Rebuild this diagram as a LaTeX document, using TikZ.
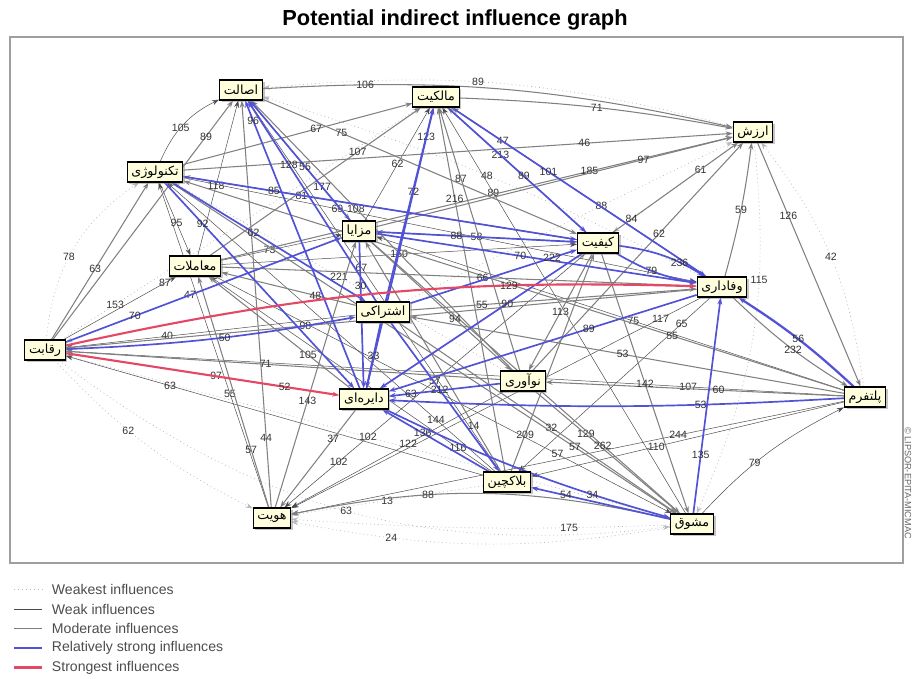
\documentclass[tikz,border=0pt]{standalone}
\usepackage{fontspec}
\setmainfont{Liberation Sans}
\newfontfamily\arabicfont[Script=Arabic]{DejaVu Sans}
\TeXXeTstate=1
\usetikzlibrary{arrows.meta,shadows,backgrounds}

\definecolor{rsblue}{RGB}{82,82,215}
\definecolor{stred}{RGB}{228,72,100}
\definecolor{varfill}{RGB}{255,255,222}
\newcommand\pers[1]{\beginR#1\endR}

\tikzset{
  var/.style={draw, line width=0.8pt, fill=varfill, inner xsep=3pt, inner ysep=1pt,
    minimum height=0.5cm, font=\arabicfont\fontsize{9}{10}\selectfont,
    drop shadow={shadow xshift=1.5pt, shadow yshift=-1.5pt, fill=black!45}},
  infl/.style={-{Stealth[length=5pt,width=3.5pt]}},
  weakest/.style={infl, gray!55, line width=0.5pt, dash pattern=on 0.6pt off 2.2pt},
  weak/.style={infl, black!70, line width=0.35pt},
  moderate/.style={infl, gray, line width=0.75pt},
  rstrong/.style={infl, rsblue, line width=1.2pt},
  strongest/.style={infl, stred, line width=1.5pt},
  num/.style={font=\fontsize{7.5}{8}\selectfont, text=black!80, inner sep=0.5pt},
  legtext/.style={font=\fontsize{10}{12}\selectfont, text=black!70, anchor=west},
}

\begin{document}
\begin{tikzpicture}[x=0.025cm, y=-0.025cm]
  \useasboundingbox (0,0) rectangle (912,678);

  \node[font=\bfseries\fontsize{15.5}{17}\selectfont] (title) at (455,20) {Potential indirect influence graph};
  \draw[gray!75, line width=1.2pt] (10,37) rectangle (903,563);
  \node[rotate=-90, font=\fontsize{6.5}{7}\selectfont, text=black!60, inner sep=0pt] (copy) at (908,483) {© LIPSOR-EPITA-MICMAC};

  \node[var] (asalat) at (241,90) {\pers{اصالت}};
  \node[var] (malkiat) at (436,97) {\pers{مالکیت}};
  \node[var] (arzesh) at (753,132) {\pers{ارزش}};
  \node[var] (tech) at (155,172) {\pers{تکنولوژی}};
  \node[var] (mazaya) at (359,231) {\pers{مزایا}};
  \node[var] (keyfiat) at (598,243) {\pers{کیفیت}};
  \node[var] (moamelat) at (195,266) {\pers{معاملات}};
  \node[var] (vafadari) at (722,287) {\pers{وفاداری}};
  \node[var] (eshteraki) at (383,312) {\pers{اشتراکی}};
  \node[var] (reghabat) at (45,350) {\pers{رقابت}};
  \node[var] (noavari) at (523,381) {\pers{نوآوری}};
  \node[var] (dayerei) at (364,399) {\pers{دایره‌ای}};
  \node[var] (platform) at (865,397) {\pers{پلتفرم}};
  \node[var] (blockchain) at (507,482) {\pers{بلاکچین}};
  \node[var] (moshavegh) at (692,524) {\pers{مشوق}};
  \node[var] (hoviat) at (272,518) {\pers{هویت}};

  \begin{scope}[on background layer, every node/.style=num]
    \path
      (arzesh) edge[weakest, bend right=10] node[pos=.55]{89} (asalat)
      (reghabat) edge[weakest, bend left=25] node[pos=.45]{78} (tech)
      (reghabat) edge[weakest, bend right=22] node[pos=.5]{63} (moshavegh)
      (moshavegh) edge[weakest, bend left=10] node[pos=.75]{24} (hoviat)
      (moshavegh) edge[weakest, bend left=3] node[pos=.25]{175} (hoviat)
      (platform) edge[weakest, bend right=15] node[pos=.5]{42} (arzesh)
      (arzesh) edge[weakest, bend left=15] node[pos=.35]{115} (moshavegh)
      (reghabat) edge[weakest, bend right=10] node[pos=.4]{62} (hoviat)
      (reghabat) edge[weakest] node[pos=.15]{153} (malkiat)
      (arzesh) edge[weakest] node[pos=.3]{61} (keyfiat)
      (dayerei) edge[weakest] node[pos=.45]{97} (reghabat)
      (moshavegh) edge[weakest] node[pos=.5]{102} (reghabat)
      (vafadari) edge[weakest, bend right=5] node[pos=.5]{48} (asalat)
      (noavari) edge[weakest] node[pos=.5]{221} (tech)
      (hoviat) edge[weakest] node[pos=.5]{57} (keyfiat)
      (eshteraki) edge[weakest] node[pos=.6]{88} (arzesh)
      (mazaya) edge[weakest] node[pos=.55]{47} (reghabat)
      (blockchain) edge[weakest] node[pos=.5]{13} (hoviat);
    \path
      (tech) edge[weak, bend left=20] node[pos=.45]{105} (asalat)
      (moamelat) edge[weak] node[pos=.45]{118} (asalat)
      (hoviat) edge[weak] node[pos=.35]{55} (tech)
      (reghabat) edge[weak] node[pos=.9]{87} (moamelat)
      (moamelat) edge[weak] node[pos=.4]{73} (mazaya)
      (mazaya) edge[weak] node[pos=.5]{62} (malkiat)
      (tech) edge[weak] node[pos=.3]{69} (vafadari)
      (platform) edge[weak] node[pos=.6]{110} (blockchain)
      (vafadari) edge[weak] node[pos=.15]{65} (blockchain)
      (moshavegh) edge[weak, bend left=10] node[pos=.4]{79} (platform)
      (moshavegh) edge[weak] node[pos=.79]{89} (malkiat)
      (blockchain) edge[weak] node[pos=.18]{144} (tech)
      (blockchain) edge[weak] node[pos=.12]{116} (moamelat)
      (blockchain) edge[weak] node[pos=.55]{67} (asalat)
      (noavari) edge[weak] node[pos=.45]{122} (hoviat)
      (moamelat) edge[weak] node[pos=.5]{160} (keyfiat)
      (tech) edge[weak] node[pos=.55]{95} (moamelat)
      (platform) edge[weak] node[pos=.45]{75} (mazaya)
      (eshteraki) edge[weak] node[pos=.65]{40} (reghabat)
      (blockchain) edge[weak] node[pos=.75]{63} (reghabat)
      (vafadari) edge[weak] node[pos=.1]{117} (hoviat)
      (keyfiat) edge[weak] node[pos=.82]{102} (hoviat)
      (moamelat) edge[weak] node[pos=.75]{57} (moshavegh)
      (platform) edge[weak] node[pos=.3]{244} (hoviat)
      (platform) edge[weak] node[pos=.2]{107} (reghabat);
    \path
      (asalat) edge[moderate, bend left=8] node[pos=.2]{106} (arzesh)
      (malkiat) edge[moderate, bend left=4] node[pos=.5]{71} (arzesh)
      (tech) edge[moderate] node[pos=.73]{46} (arzesh)
      (moamelat) edge[moderate] node[pos=.72]{185} (arzesh)
      (mazaya) edge[moderate] node[pos=.75]{97} (arzesh)
      (keyfiat) edge[moderate] node[pos=.15]{84} (arzesh)
      (noavari) edge[moderate] node[pos=.6]{62} (arzesh)
      (vafadari) edge[moderate, bend right=4] node[pos=.5]{59} (arzesh)
      (arzesh) edge[moderate] node[pos=.3]{126} (platform)
      (reghabat) edge[moderate] node[pos=.85]{89} (asalat)
      (reghabat) edge[moderate] node[pos=.45]{63} (tech)
      (asalat) edge[moderate] node[pos=.25]{75} (keyfiat)
      (tech) edge[moderate] node[pos=.58]{67} (malkiat)
      (moamelat) edge[moderate] node[pos=.7]{107} (malkiat)
      (platform) edge[moderate] node[pos=.42]{60} (noavari)
      (vafadari) edge[moderate, bend right=6] node[pos=.55]{232} (platform)
      (noavari) edge[moderate] node[pos=.35]{129} (moshavegh)
      (eshteraki) edge[moderate] node[pos=.55]{32} (moshavegh)
      (mazaya) edge[moderate] node[pos=.75]{262} (moshavegh)
      (keyfiat) edge[moderate] node[pos=.5]{142} (moshavegh)
      (tech) edge[moderate] node[pos=.8]{57} (moshavegh)
      (dayerei) edge[moderate] node[pos=.3]{37} (hoviat)
      (moshavegh) edge[moderate, bend right=12] node[pos=.65]{88} (hoviat)
      (hoviat) edge[moderate] node[pos=.17]{44} (asalat)
      (hoviat) edge[moderate] node[pos=.4]{143} (mazaya)
      (hoviat) edge[moderate] node[pos=.25]{57} (moamelat)
      (noavari) edge[moderate] node[pos=.54]{71} (reghabat)
      (keyfiat) edge[moderate] node[pos=.7]{81} (tech)
      (vafadari) edge[moderate] node[pos=.62]{98} (reghabat)
      (keyfiat) edge[moderate] node[pos=.5]{58} (mazaya)
      (noavari) edge[moderate] node[pos=.73]{87} (malkiat)
      (blockchain) edge[moderate] node[pos=.75]{216} (malkiat)
      (noavari) edge[moderate] node[pos=.6]{108} (asalat)
      (keyfiat) edge[moderate] node[pos=.62]{213} (malkiat)
      (vafadari) edge[moderate] node[pos=.8]{47} (malkiat)
      (platform) edge[moderate] node[pos=.51]{53} (eshteraki)
      (platform) edge[moderate] node[pos=.26]{55} (tech)
      (blockchain) edge[moderate] node[pos=.17]{209} (keyfiat)
      (blockchain) edge[moderate] node[pos=.2]{14} (mazaya)
      (keyfiat) edge[moderate] node[pos=.5]{113} (noavari)
      (mazaya) edge[moderate] node[pos=.6]{94} (noavari)
      (moamelat) edge[moderate] node[pos=.55]{66} (vafadari)
      (asalat) edge[moderate] node[pos=.72]{177} (mazaya)
      (eshteraki) edge[moderate] node[pos=.3]{48} (moamelat)
      (dayerei) edge[moderate] node[pos=.3]{105} (moamelat)
      (eshteraki) edge[moderate] node[pos=.25]{55} (vafadari);
    \path
      (reghabat) edge[rstrong] node[pos=.25]{70} (mazaya)
      (reghabat) edge[rstrong, bend right=4] node[pos=.55]{50} (eshteraki)
      (tech) edge[rstrong] node[pos=.2]{92} (dayerei)
      (dayerei) edge[rstrong] node[pos=.93]{96} (asalat)
      (eshteraki) edge[rstrong] node[pos=.68]{128} (asalat)
      (mazaya) edge[rstrong] node[pos=.45]{55} (asalat)
      (eshteraki) edge[rstrong] node[pos=.85]{123} (malkiat)
      (dayerei) edge[rstrong] node[pos=.7]{72} (malkiat)
      (malkiat) edge[rstrong] node[pos=.38]{101} (vafadari)
      (malkiat) edge[rstrong] node[pos=.55]{89} (keyfiat)
      (keyfiat) edge[rstrong, bend right=10] node[pos=.45]{79} (vafadari)
      (keyfiat) edge[rstrong, bend left=12] node[pos=.7]{236} (vafadari)
      (mazaya) edge[rstrong] node[pos=.45]{70} (vafadari)
      (eshteraki) edge[rstrong] node[pos=.85]{222} (keyfiat)
      (mazaya) edge[rstrong] node[pos=.4]{88} (keyfiat)
      (tech) edge[rstrong] node[pos=.23]{85} (keyfiat)
      (platform) edge[rstrong, line width=1.6pt, bend right=5] node[pos=.5]{56} (vafadari)
      (platform) edge[rstrong, bend left=3] node[pos=.3]{53} (dayerei)
      (moshavegh) edge[rstrong] node[pos=.27]{135} (vafadari)
      (moshavegh) edge[rstrong] node[pos=.75]{54} (blockchain)
      (blockchain) edge[rstrong] node[pos=.62]{136} (dayerei)
      (dayerei) edge[rstrong, bend right=5] node[pos=.75]{34} (moshavegh)
      (eshteraki) edge[rstrong] node[pos=.5]{33} (dayerei)
      (mazaya) edge[rstrong] node[pos=.3]{30} (dayerei)
      (noavari) edge[rstrong] node[pos=.8]{63} (dayerei)
      (keyfiat) edge[rstrong] node[pos=.37]{90} (dayerei)
      (vafadari) edge[rstrong] node[pos=.35]{89} (dayerei)
      (tech) edge[rstrong] node[pos=.42]{62} (eshteraki)
      (eshteraki) edge[rstrong] node[pos=.45]{212} (blockchain);
    \path
      (reghabat) edge[strongest, bend left=7] node[pos=.72]{129} (vafadari)
      (reghabat) edge[strongest] node[pos=.8]{52} (dayerei);
  \end{scope}

  \foreach \s/\t [count=\i] in {weakest/Weakest influences, weak/Weak influences,
      moderate/Moderate influences, rstrong/Relatively strong influences, strongest/Strongest influences} {
    \draw[\s, -] (14,570+19.5*\i) -- (42,570+19.5*\i);
    \node[legtext] (leg\i) at (47,570+19.5*\i) {\t};
  }
\end{tikzpicture}
\end{document}
